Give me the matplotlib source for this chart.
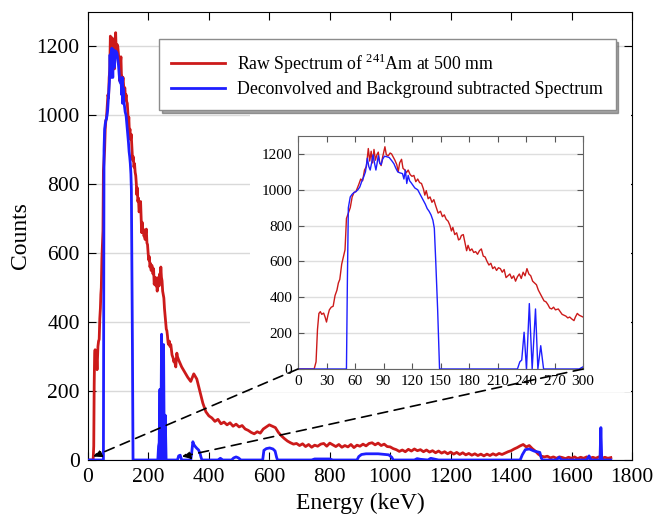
import matplotlib.pyplot as plt
from matplotlib.patches import ConnectionPatch, Rectangle

plt.rcParams['font.family'] = ['Liberation Serif', 'DejaVu Serif']
plt.rcParams['mathtext.fontset'] = 'custom'
plt.rcParams['mathtext.rm'] = 'Liberation Serif'

# raw spectrum, low-energy part
raw_e_low = [0, 17, 19, 20.5, 22, 23.5, 25, 27, 28.5, 30, 31.5, 33, 35, 37, 39, 41, 42.5, 44, 46, 47.5,
             49.5, 51, 53, 55, 57, 59, 61, 62.5, 64, 66, 68, 70, 72, 74, 75.5, 77, 78.5, 80, 81.5, 83,
             84.5, 86, 87.5, 89, 90.5, 91.5, 93, 95, 97, 98.5, 100, 102, 104, 105.5, 107, 109, 110.5, 112.5, 114, 116,
             118, 120, 122, 124, 126, 128, 130, 132, 133.5, 135, 137, 139, 141, 143, 145, 147.5, 150, 152, 154, 156,
             158, 160, 161.5, 163, 165, 167, 169, 170.5, 172, 174, 176, 177.5, 179, 181, 183, 185, 187, 189, 191, 193,
             195, 197, 199, 201, 203, 205, 207, 209, 211, 213, 215, 217, 219, 221, 223, 225, 227, 229, 231, 233,
             235, 237, 239, 241, 243, 245, 247, 249, 251, 253, 255, 257, 259, 261, 263, 265, 267, 269, 271, 274,
             276, 278, 280, 282, 284, 286, 288, 290.5, 292, 294, 296, 298, 300]
raw_c_low = [0, 0, 40, 220, 310, 320, 305, 312, 290, 262, 300, 330, 345, 350, 410, 440, 480, 500, 585, 620,
             665, 840, 870, 900, 960, 985, 990, 1010, 1030, 1060, 1050, 1110, 1130, 1230, 1160, 1215, 1150, 1225, 1165, 1195,
             1210, 1150, 1135, 1180, 1215, 1240, 1195, 1190, 1205, 1200, 1185, 1165, 1140, 1100, 1150, 1170, 1120, 1110, 1095, 1110,
             1085, 1075, 1080, 1045, 1060, 1040, 1035, 1005, 970, 995, 950, 960, 930, 945, 910, 870, 880, 850, 860, 835,
             825, 800, 770, 790, 750, 760, 720, 725, 745, 750, 700, 660, 690, 660, 670, 650, 655, 640, 660, 670,
             630, 625, 600, 580, 590, 560, 570, 550, 565, 560, 540, 555, 510, 520, 530, 505, 520, 490, 515, 530,
             505, 540, 520, 560, 530, 520, 490, 480, 470, 440, 420, 400, 380, 375, 360, 340, 335, 345, 330, 335,
             320, 305, 300, 295, 285, 290, 280, 270, 290, 310, 300, 295, 290]

# raw spectrum above 300 keV (10 keV steps)
raw_e_high = list(range(310, 1740, 10))
raw_c_high = [270, 255, 240, 228, 250, 235, 200, 165, 140, 128, 122, 112, 118, 105, 110, 102, 108, 98, 104, 96,
              100, 90, 86, 80, 76, 82, 78, 90, 96, 102, 98, 94, 80, 70, 62, 55, 50, 46, 48, 42,
              47, 39, 45, 37, 43, 40, 46, 48, 40, 49, 44, 39, 45, 37, 42, 38, 45, 36, 43, 40,
              46, 41, 48, 50, 44, 49, 42, 46, 39, 38, 33, 30, 25, 29, 24, 31, 26, 32, 27, 30,
              24, 29, 23, 27, 21, 26, 20, 24, 18, 23, 17, 22, 16, 21, 15, 19, 14, 18, 13, 17,
              12, 17, 13, 18, 14, 19, 16, 20, 24, 27, 32, 36, 41, 45, 38, 42, 33, 26, 17, 11,
              9, 11, 6, 9, 5, 9, 7, 4, 8, 5, 9, 4, 8, 5, 9, 4, 8, 5, 9, 4,
              8, 5, 7]

# deconvolved / background subtracted spectrum
dec_e = [0, 51, 52, 53, 55, 57, 59, 61, 63, 65, 67, 69, 71, 73, 74.5, 76, 77.5, 79, 80.5, 82,
         83, 84.5, 86, 87.5, 89, 91, 93, 96, 99, 101, 103, 105, 107, 110, 111.5, 113, 114.5, 116, 117.5, 119,
         121, 123, 126, 128, 131, 134, 136, 138, 140, 142, 143.5, 145, 147, 148.5, 149, 231, 233.5, 235.5, 238, 240.5,
         243.5, 246.5, 250, 252.5, 255.5, 258.5, 296, 298, 300, 305, 310, 340, 343, 347, 350, 355, 360, 366, 371, 374,
         377, 430, 438, 446, 475, 482, 490, 498, 506, 578, 582, 590, 601, 612, 619, 624, 627, 740, 750, 800,
         810, 890, 896, 905, 920, 960, 995, 1005, 1010, 1080, 1089, 1100, 1125, 1134, 1145, 1160, 1430, 1437, 1447, 1460,
         1476, 1495, 1500, 1505, 1550, 1559, 1567, 1650, 1658, 1664, 1694, 1697, 1700, 1730]
dec_c = [0, 0, 500, 900, 960, 975, 985, 990, 1000, 1015, 1045, 1070, 1100, 1176, 1130, 1110, 1150, 1195, 1150, 1110,
         1140, 1190, 1150, 1140, 1170, 1187, 1185, 1180, 1160, 1145, 1120, 1100, 1095, 1090, 1060, 1110, 1035, 1080, 1050, 1040,
         1025, 1010, 1000, 980, 950, 920, 895, 880, 860, 830, 785, 600, 330, 80, 0, 0, 40, 50, 205, 0,
         365, 0, 335, 0, 130, 0, 0, 6, 12, 14, 0, 0, 20, 53, 45, 39, 34, 29, 18, 8,
         0, 0, 5, 0, 0, 6, 9, 6, 0, 0, 28, 33, 35, 32, 26, 8, 0, 0, 3, 3,
         0, 0, 10, 16, 18, 18, 15, 8, 0, 0, 4, 2, 0, 5, 3, 0, 0, 15, 30, 32,
         26, 22, 5, 0, 0, 8, 0, 0, 12, 0, 0, 94, 0, 0]

red = '#cc1a1a'
blue = '#1e1eff'

fig = plt.figure(figsize=(6.54, 5.22), dpi=100)
ax = fig.add_axes([88/654, 1-460/522, 544/654, 448/522])

ax.plot(raw_e_low + raw_e_high, raw_c_low + raw_c_high, color=red, lw=2.0, zorder=2,
        label=r'Raw Spectrum of $^{241}$Am at 500 mm')
ax.plot(dec_e, dec_c, color=blue, lw=2.0, zorder=3,
        label='Deconvolved and Background subtracted Spectrum')
ax.set_xlim(0, 1800)
ax.set_ylim(0, 1300)
ax.set_xticks(range(0, 1801, 200))
ax.set_yticks(range(0, 1201, 200))
ax.set_axisbelow(True)
ax.grid(axis='y', color='#d9d9d9', lw=1)
ax.tick_params(direction='in', top=True, right=True, length=6, labelsize=15.5, pad=6)
ax.set_xlabel('Energy (keV)', fontsize=17, labelpad=4)
ax.set_ylabel('Counts', fontsize=17, labelpad=4)

# white area behind the inset (hides the grid)
ax.add_patch(Rectangle((250/654, 1-392/522), 381/654, 284/522, transform=fig.transFigure,
                       facecolor='white', edgecolor='none', zorder=0.8))

leg = ax.legend(loc='upper left', bbox_to_anchor=(159/654, 1-39/522), bbox_transform=fig.transFigure,
                borderaxespad=0, fontsize=12.8, handlelength=3.0, handletextpad=0.7, labelspacing=0.3,
                borderpad=0.7, fancybox=False, shadow=True, framealpha=1, edgecolor='#8c8c8c')
leg.get_frame().set_linewidth(1.0)

# inset
axins = fig.add_axes([298/654, 1-369/522, 285/654, 233/522])
axins.plot(raw_e_low, raw_c_low, color=red, lw=1.0)
axins.plot(dec_e, dec_c, color=blue, lw=1.0)
axins.set_xlim(0, 300)
axins.set_ylim(0, 1300)
axins.set_xticks(range(0, 301, 30))
axins.set_yticks(range(0, 1201, 200))
axins.set_axisbelow(True)
axins.grid(axis='y', color='#dedede', lw=1)
axins.tick_params(direction='in', top=True, right=True, length=4, labelsize=11, pad=4,
                  color='#555555')
for sp in axins.spines.values():
    sp.set_color('#666666')

# dashed arrows from inset corners to the zoomed range
for xa, xb in [(0, 17), (300, 311)]:
    con = ConnectionPatch(xyA=(xa, 0), coordsA=axins.transData, xyB=(xb, 10), coordsB=ax.transData,
                          arrowstyle='-|>', linestyle=(0, (6, 4)), color='k', lw=1.2, mutation_scale=12)
    fig.add_artist(con)

fig.savefig('out.png', dpi=100)
